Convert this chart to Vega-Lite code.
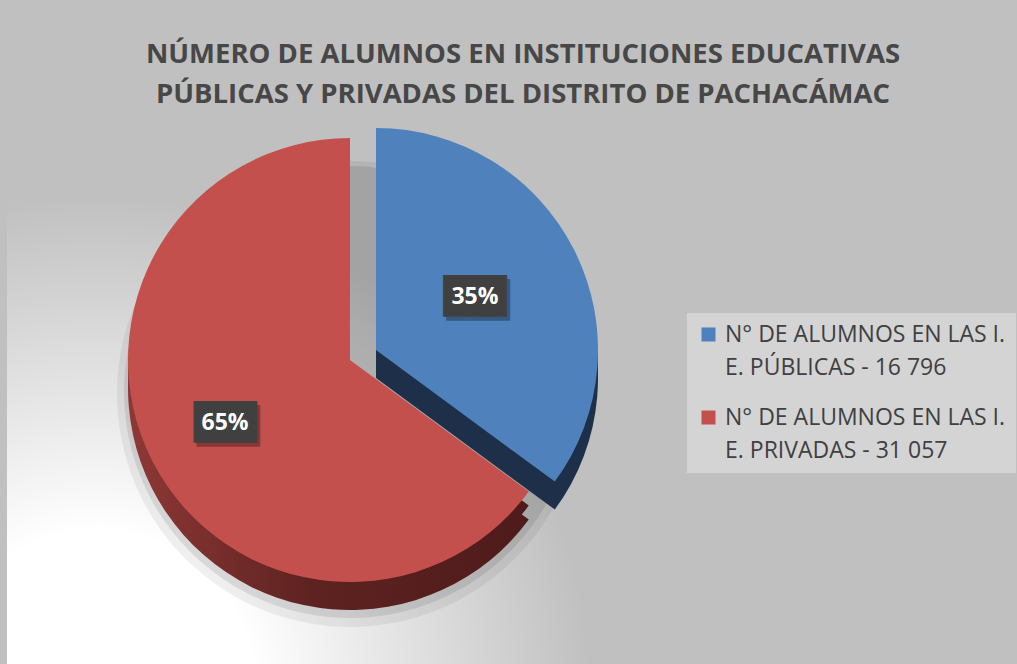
{
  "$schema": "https://vega.github.io/schema/vega-lite/v6.json",
  "autosize": "none",
  "width": 686,
  "height": 608,
  "padding": {"left": 7, "top": 56, "right": 324, "bottom": 0},
  "background": "#c0c0c0",
  "title": {
    "text": ["NÚMERO DE ALUMNOS EN INSTITUCIONES EDUCATIVAS", "PÚBLICAS Y PRIVADAS DEL DISTRITO DE PACHACÁMAC"],
    "font": "Open Sans",
    "fontSize": 27.5,
    "fontWeight": "bold",
    "color": "#474747",
    "lineHeight": 40,
    "baseline": "top",
    "offset": -52,
    "anchor": "middle",
    "dx": 173
  },
  "config": {"view": {"stroke": null}, "style": {"guide-label": {"lineHeight": 33}}},
  "data": {
    "values": [
      {"tipo": "N° DE ALUMNOS EN LAS I. E. PÚBLICAS - 16 796", "alumnos": 16796, "orden": 1, "etiqueta": "35%"},
      {"tipo": "N° DE ALUMNOS EN LAS I. E. PRIVADAS - 31 057", "alumnos": 31057, "orden": 2, "etiqueta": "65%"}
    ]
  },
  "layer": [
    {
      "data": {"values": [{"fondo": 1}]},
      "mark": {
        "type": "rect",
        "fill": {
          "gradient": "radial",
          "x1": 0.13, "y1": 0.98, "x2": 0.13, "y2": 0.98, "r1": 0, "r2": 0.72,
          "stops": [
            {"offset": 0, "color": "#ffffff"},
            {"offset": 0.32, "color": "#ffffff"},
            {"offset": 1, "color": "#c0c0c0"}
          ]
        }
      },
      "encoding": {}
    },
    {
      "mark": {"type": "arc", "radius": 233, "yOffset": 34, "fill": "#000000", "opacity": 0.06},
      "encoding": {
        "theta": {"field": "alumnos", "type": "quantitative", "stack": true},
        "order": {"field": "orden", "type": "quantitative"}
      }
    },
    {
      "mark": {"type": "arc", "radius": 226, "yOffset": 32, "fill": "#000000", "opacity": 0.09},
      "encoding": {
        "theta": {"field": "alumnos", "type": "quantitative", "stack": true},
        "order": {"field": "orden", "type": "quantitative"}
      }
    },
    {
      "mark": {
        "type": "arc", "radius": 222, "yOffset": 28,
        "fill": {
          "gradient": "linear", "x1": 0, "y1": 0, "x2": 1, "y2": 0,
          "stops": [
            {"offset": 0, "color": "#8e3836"},
            {"offset": 0.45, "color": "#5e2321"},
            {"offset": 1, "color": "#4e1b1b"}
          ]
        }
      },
      "encoding": {
        "theta": {"field": "alumnos", "type": "quantitative", "stack": true},
        "order": {"field": "orden", "type": "quantitative"},
        "opacity": {"condition": {"test": "datum.orden == 2", "value": 1}, "value": 0}
      }
    },
    {
      "mark": {
        "type": "arc", "radius": 222, "yOffset": 14,
        "fill": {
          "gradient": "linear", "x1": 0, "y1": 0, "x2": 1, "y2": 0,
          "stops": [
            {"offset": 0, "color": "#8e3836"},
            {"offset": 0.45, "color": "#5e2321"},
            {"offset": 1, "color": "#4e1b1b"}
          ]
        }
      },
      "encoding": {
        "theta": {"field": "alumnos", "type": "quantitative", "stack": true},
        "order": {"field": "orden", "type": "quantitative"},
        "opacity": {"condition": {"test": "datum.orden == 2", "value": 1}, "value": 0}
      }
    },
    {
      "mark": {"type": "arc", "radius": 222, "xOffset": 26, "yOffset": 18, "fill": "#1e3049"},
      "encoding": {
        "theta": {"field": "alumnos", "type": "quantitative", "stack": true},
        "order": {"field": "orden", "type": "quantitative"},
        "opacity": {"condition": {"test": "datum.orden == 1", "value": 1}, "value": 0}
      }
    },
    {
      "mark": {"type": "arc", "radius": 222, "xOffset": 26, "yOffset": 4, "fill": "#1e3049"},
      "encoding": {
        "theta": {"field": "alumnos", "type": "quantitative", "stack": true},
        "order": {"field": "orden", "type": "quantitative"},
        "opacity": {"condition": {"test": "datum.orden == 1", "value": 1}, "value": 0}
      }
    },
    {
      "mark": {"type": "arc", "radius": 222},
      "encoding": {
        "theta": {"field": "alumnos", "type": "quantitative", "stack": true},
        "order": {"field": "orden", "type": "quantitative"},
        "opacity": {"condition": {"test": "datum.orden == 2", "value": 1}, "value": 0},
        "color": {
          "field": "tipo", "type": "nominal",
          "scale": {
            "domain": ["N° DE ALUMNOS EN LAS I. E. PÚBLICAS - 16 796", "N° DE ALUMNOS EN LAS I. E. PRIVADAS - 31 057"],
            "range": ["#4f81bd", "#c4504d"]
          },
          "legend": {
            "orient": "none",
            "legendX": 680,
            "legendY": 257,
            "title": null,
            "fillColor": "#d4d4d4",
            "padding": 10,
            "symbolType": "square",
            "symbolSize": 196,
            "symbolStrokeWidth": 0,
            "labelFont": "Open Sans",
            "labelFontSize": 23,
            "labelColor": "#404040",
            "labelBaseline": "middle",
            "labelLimit": 400,
            "labelOffset": 5,
            "rowPadding": 26,
            "labelExpr": "split(replace(datum.label, 'LAS I. ', 'LAS I.|'), '|')"
          }
        }
      }
    },
    {
      "mark": {"type": "arc", "radius": 222, "xOffset": 26, "yOffset": -10},
      "encoding": {
        "theta": {"field": "alumnos", "type": "quantitative", "stack": true},
        "order": {"field": "orden", "type": "quantitative"},
        "opacity": {"condition": {"test": "datum.orden == 1", "value": 1}, "value": 0},
        "color": {"field": "tipo", "type": "nominal"}
      }
    },
    {
      "mark": {"type": "text", "radius": 140, "font": "DejaVu Sans Mono", "fontSize": 35, "fill": "#000000", "opacity": 0.3, "dx": 3, "dy": 4, "baseline": "middle", "align": "center"},
      "encoding": {
        "theta": {"field": "alumnos", "type": "quantitative", "stack": true},
        "order": {"field": "orden", "type": "quantitative"},
        "text": {"value": "███"}
      }
    },
    {
      "mark": {"type": "text", "radius": 140, "font": "DejaVu Sans Mono", "fontSize": 35, "fill": "#404040", "baseline": "middle", "align": "center"},
      "encoding": {
        "theta": {"field": "alumnos", "type": "quantitative", "stack": true},
        "order": {"field": "orden", "type": "quantitative"},
        "text": {"value": "███"}
      }
    },
    {
      "mark": {"type": "text", "radius": 140, "font": "Open Sans", "fontSize": 23, "fontWeight": "bold", "fill": "#ffffff", "baseline": "middle", "align": "center"},
      "encoding": {
        "theta": {"field": "alumnos", "type": "quantitative", "stack": true},
        "order": {"field": "orden", "type": "quantitative"},
        "text": {"field": "etiqueta", "type": "nominal"}
      }
    }
  ]
}
